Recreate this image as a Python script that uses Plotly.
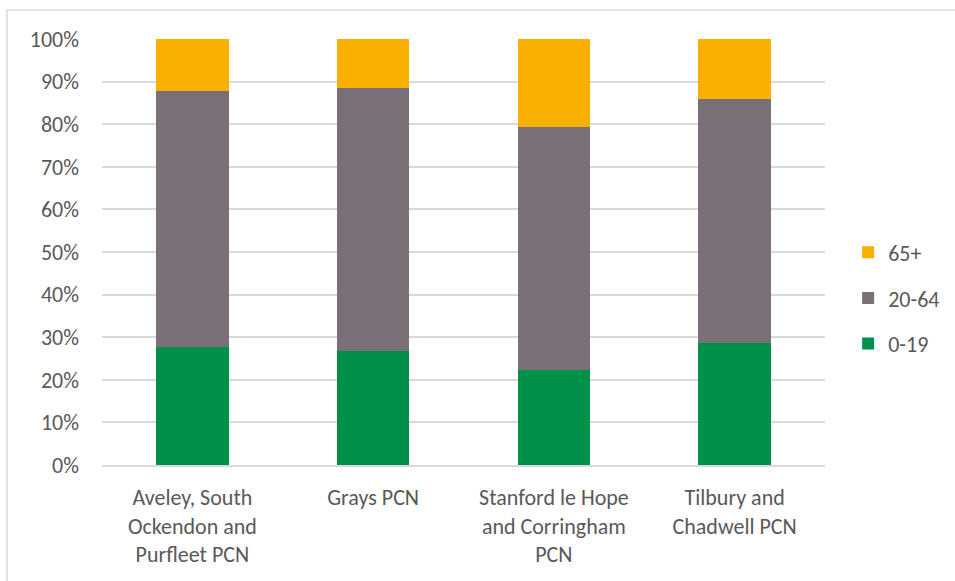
import plotly.graph_objects as go

categories = ["Aveley, South<br>Ockendon and<br>Purfleet PCN", "Grays PCN",
              "Stanford le Hope<br>and Corringham<br>PCN", "Tilbury and<br>Chadwell PCN"]
age_0_19 = [27.8, 26.8, 22.3, 28.7]
age_20_64 = [60.1, 61.6, 57.1, 57.1]
age_65_plus = [12.1, 11.6, 20.6, 14.2]
series_names = ["0-19", "20-64", "65+"]
colors = ["#00904A", "#7A7078", "#F9B000"]
legend_ranks = [3, 2, 1]

FONT = "Carlito, Liberation Sans Narrow, Roboto Condensed, Arial Narrow, sans-serif"
TXT = "#595959"

fig = go.Figure()
for name, vals, col, rk in zip(series_names, [age_0_19, age_20_64, age_65_plus], colors, legend_ranks):
    fig.add_trace(go.Bar(x=categories, y=vals, name=name, marker_color=col,
                         marker_line_width=0, legendgroup=name, legendrank=rk))

fig.update_layout(
    barmode="stack",
    bargap=0.6,
    width=955, height=581,
    margin=dict(l=102, r=130, t=39, b=116, autoexpand=False),
    paper_bgcolor="white", plot_bgcolor="white",
    font=dict(family=FONT, size=22, color=TXT),
    legend=dict(tracegroupgap=14,
                x=1.032, xanchor="left", y=0.392, yanchor="middle",
                font=dict(size=22, color=TXT), bgcolor="rgba(0,0,0,0)"),
    showlegend=True,
)
fig.update_yaxes(range=[0, 100], dtick=10, ticksuffix="%", showgrid=True,
                 gridcolor="#D9D9D9", gridwidth=1.5, zeroline=False,
                 showline=False, ticklabelstandoff=22, tickfont=dict(size=22, color=TXT))
fig.update_xaxes(showline=True, linecolor="#D9D9D9", linewidth=1.5,
                 ticks="", tickfont=dict(size=22, color=TXT), ticklabelstandoff=12)
fig.add_shape(type="rect", xref="paper", yref="paper",
              x0=(7 - 102) / 723, x1=1.5, y0=-0.5, y1=(465 - 10) / 426,
              line=dict(color="#D9D9D9", width=1.5), layer="below")

fig.write_html("out.html", config={"displayModeBar": False},
               post_script="document.body.style.margin='0px';")
